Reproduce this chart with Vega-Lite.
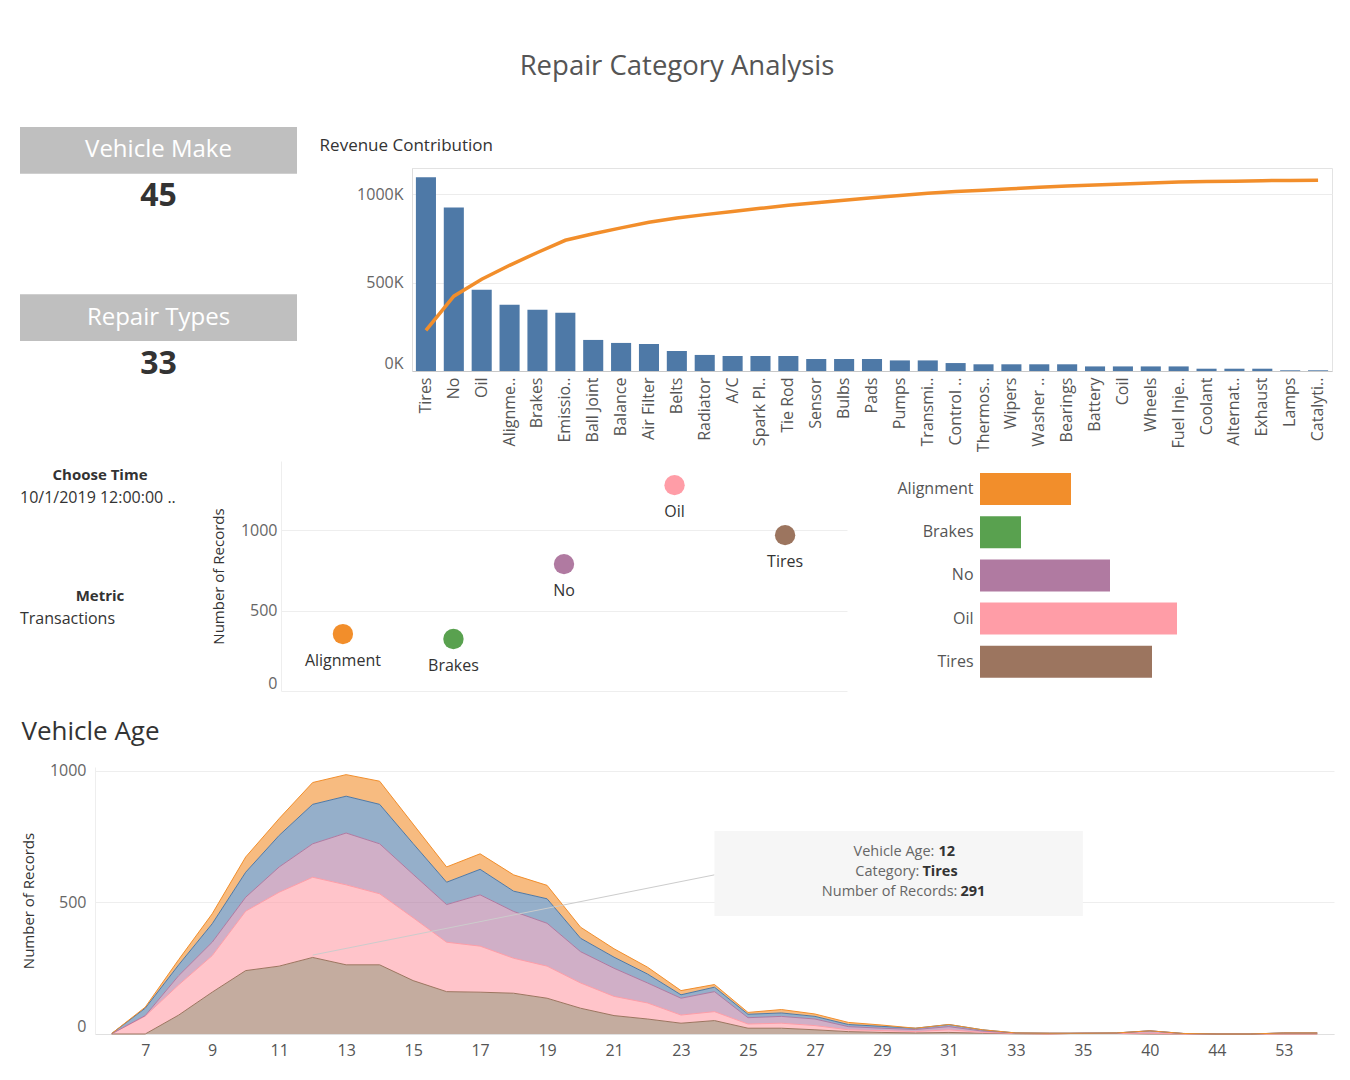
{
  "$schema": "https://vega.github.io/schema/vega-lite/v6.json",
  "background": "white",
  "padding": {"left": 20, "top": 52, "right": 5, "bottom": 5},
  "config": {
    "font": "Open Sans",
    "view": {"stroke": null},
    "axis": {"labelFont": "Open Sans", "titleFont": "Open Sans"},
    "legend": {"disable": true}
  },
  "title": {"text": "Repair Category Analysis", "fontSize": 27.5, "fontWeight": "normal", "color": "#555555", "anchor": "middle", "offset": 47},
  "resolve": {"scale": {"color": "independent"}},
  "spacing": 8,
  "vconcat": [
    {
      "hconcat": [
        {
          "width": 277,
          "height": 214,
          "data": {"values": [
            {"Measure": "Vehicle Make", "Count": 45},
            {"Measure": "Repair Types", "Count": 33}
          ]},
          "encoding": {"y": {"field": "Measure", "type": "nominal", "sort": null, "axis": null, "scale": {"type": "band", "paddingInner": 0.72, "paddingOuter": 0}}},
          "layer": [
            {"mark": {"type": "rect", "color": "#bfbfbf"}},
            {"mark": {"type": "text", "color": "#ffffff", "fontSize": 24}, "encoding": {"text": {"field": "Measure", "type": "nominal"}}},
            {"mark": {"type": "text", "color": "#333333", "fontSize": 32, "fontWeight": "bold", "dy": 46}, "encoding": {"text": {"field": "Count", "type": "quantitative"}}}
          ]
        },
        {
          "vconcat": [
            {"width": 1, "height": 1, "data": {"values": []}, "mark": "point"},
            {
              "width": 920,
              "height": 203,
              "title": {"text": "Revenue Contribution", "fontSize": 17, "fontWeight": "normal", "color": "#333333", "anchor": "start", "frame": "bounds", "dx": -37, "offset": 13},
              "view": {"stroke": "#e3e3e3"},
              "data": {"values": [
                {"Repair": "Tires", "Revenue": 1097000, "CumShare": 0.2128},
                {"Repair": "No", "Revenue": 926000, "CumShare": 0.3924},
                {"Repair": "Oil", "Revenue": 460000, "CumShare": 0.4817},
                {"Repair": "Alignme..", "Revenue": 375000, "CumShare": 0.5544},
                {"Repair": "Brakes", "Revenue": 347000, "CumShare": 0.6217},
                {"Repair": "Emissio..", "Revenue": 330000, "CumShare": 0.6857},
                {"Repair": "Ball Joint", "Revenue": 176000, "CumShare": 0.7199},
                {"Repair": "Balance", "Revenue": 159000, "CumShare": 0.7507},
                {"Repair": "Air Filter", "Revenue": 153000, "CumShare": 0.7804},
                {"Repair": "Belts", "Revenue": 114000, "CumShare": 0.8025},
                {"Repair": "Radiator", "Revenue": 91000, "CumShare": 0.8202},
                {"Repair": "A/C", "Revenue": 85000, "CumShare": 0.8367},
                {"Repair": "Spark Pl..", "Revenue": 85000, "CumShare": 0.8531},
                {"Repair": "Tie Rod", "Revenue": 85000, "CumShare": 0.8696},
                {"Repair": "Sensor", "Revenue": 68000, "CumShare": 0.8828},
                {"Repair": "Bulbs", "Revenue": 68000, "CumShare": 0.8960},
                {"Repair": "Pads", "Revenue": 68000, "CumShare": 0.9092},
                {"Repair": "Pumps", "Revenue": 60000, "CumShare": 0.9208},
                {"Repair": "Transmi..", "Revenue": 60000, "CumShare": 0.9325},
                {"Repair": "Control ..", "Revenue": 45000, "CumShare": 0.9412},
                {"Repair": "Thermos..", "Revenue": 38000, "CumShare": 0.9486},
                {"Repair": "Wipers", "Revenue": 38000, "CumShare": 0.9560},
                {"Repair": "Washer ..", "Revenue": 38000, "CumShare": 0.9633},
                {"Repair": "Bearings", "Revenue": 38000, "CumShare": 0.9707},
                {"Repair": "Battery", "Revenue": 26000, "CumShare": 0.9758},
                {"Repair": "Coil", "Revenue": 26000, "CumShare": 0.9808},
                {"Repair": "Wheels", "Revenue": 26000, "CumShare": 0.9858},
                {"Repair": "Fuel Inje..", "Revenue": 26000, "CumShare": 0.9909},
                {"Repair": "Coolant", "Revenue": 13000, "CumShare": 0.9934},
                {"Repair": "Alternat..", "Revenue": 13000, "CumShare": 0.9959},
                {"Repair": "Exhaust", "Revenue": 13000, "CumShare": 0.9984},
                {"Repair": "Lamps", "Revenue": 4000, "CumShare": 0.9992},
                {"Repair": "Catalyti..", "Revenue": 4000, "CumShare": 1.0}
              ]},
              "encoding": {"x": {"field": "Repair", "type": "nominal", "sort": null, "scale": {"paddingInner": 0.28, "paddingOuter": 0.14}, "axis": {"title": null, "labelAngle": 270, "labelFontSize": 16, "labelColor": "#555555", "labelPadding": 6, "ticks": false, "domainColor": "#c8c8c8", "labelLimit": 120}}},
              "layer": [
                {"mark": {"type": "bar", "color": "#4e79a7"}, "encoding": {"y": {"field": "Revenue", "type": "quantitative", "scale": {"domain": [0, 1150000], "nice": false}, "axis": {"title": null, "values": [0, 500000, 1000000], "labelExpr": "format(datum.value / 1000, 'd') + 'K'", "labelFontSize": 16, "labelColor": "#666666", "labelFlush": true, "labelPadding": 9, "ticks": false, "domainColor": "#dddddd", "gridColor": "#ececec"}}}},
                {"mark": {"type": "line", "color": "#f28e2b", "strokeWidth": 3.5}, "encoding": {"y": {"field": "CumShare", "type": "quantitative", "scale": {"domain": [0, 1.0648], "nice": false}, "axis": null}}}
              ],
              "resolve": {"scale": {"y": "independent"}}
            }
          ],
          "spacing": 8
        }
      ],
      "spacing": 22
    },
    {
      "hconcat": [
        {
          "hconcat": [
            {
              "width": 160,
              "height": 249,
              "data": {"values": [
                {"Control": "Choose Time", "Setting": "10/1/2019 12:00:00 .."},
                {"Control": "Metric", "Setting": "Transactions"}
              ]},
              "encoding": {"y": {"field": "Control", "type": "nominal", "sort": null, "axis": null, "scale": {"type": "point", "padding": 0.529, "align": 0.1094}}},
              "layer": [
                {"mark": {"type": "text", "fontSize": 15, "fontWeight": "bold", "color": "#333333"}, "encoding": {"text": {"field": "Control", "type": "nominal"}}},
                {"mark": {"type": "text", "fontSize": 16, "color": "#333333", "align": "left", "dx": -80, "dy": 23}, "encoding": {"text": {"field": "Setting", "type": "nominal"}}}
              ]
            },
            {
              "width": 566,
              "height": 230,
              "data": {"values": [
                {"Category": "Alignment", "Records": 354},
                {"Category": "Brakes", "Records": 323},
                {"Category": "No", "Records": 789},
                {"Category": "Oil", "Records": 1280},
                {"Category": "Tires", "Records": 969}
              ]},
              "encoding": {
                "x": {"field": "Category", "type": "nominal", "axis": null, "scale": {"type": "point", "padding": 0.56}},
                "y": {"field": "Records", "type": "quantitative", "scale": {"domain": [0, 1430], "nice": false}, "axis": {"title": "Number of Records", "titleFontSize": 15, "titleFontWeight": "normal", "titleColor": "#333333", "titlePadding": 14, "values": [0, 500, 1000], "format": "d", "labelFontSize": 16, "labelColor": "#666666", "labelFlush": true, "labelPadding": 4, "ticks": false, "domainColor": "#eeeeee", "gridColor": "#eeeeee"}},
                "color": {"field": "Category", "type": "nominal", "legend": null, "scale": {"domain": ["Alignment", "Brakes", "No", "Oil", "Tires"], "range": ["#f28e2b", "#59a14f", "#b07aa1", "#ff9da7", "#9c755f"]}}
              },
              "layer": [
                {"mark": {"type": "circle", "size": 415, "opacity": 1}},
                {"mark": {"type": "text", "fontSize": 16, "dy": 27}, "encoding": {"text": {"field": "Category", "type": "nominal"}, "color": {"value": "#333333"}}}
              ]
            }
          ],
          "spacing": 31
        },
        {
          "width": 250,
          "height": 249,
          "data": {"values": [
            {"Category": "Alignment", "Value": 91},
            {"Category": "Brakes", "Value": 41},
            {"Category": "No", "Value": 130},
            {"Category": "Oil", "Value": 197},
            {"Category": "Tires", "Value": 172}
          ]},
          "mark": {"type": "bar"},
          "encoding": {
            "y": {"field": "Category", "type": "nominal", "scale": {"type": "band", "paddingInner": 0.259, "paddingOuter": 0.5113, "align": 0.2715}, "axis": {"title": null, "labelFontSize": 16, "labelColor": "#555555", "labelPadding": 7, "ticks": false, "domain": false}},
            "x": {"field": "Value", "type": "quantitative", "scale": {"domain": [0, 250], "nice": false}, "axis": null},
            "color": {"field": "Category", "type": "nominal", "legend": null, "scale": {"domain": ["Alignment", "Brakes", "No", "Oil", "Tires"], "range": ["#f28e2b", "#59a14f", "#b07aa1", "#ff9da7", "#9c755f"]}}
          }
        }
      ],
      "spacing": 49
    },
    {
      "hconcat": [
        {"width": 1, "height": 1, "data": {"values": []}, "mark": "point"},
        {
          "width": 1239,
          "height": 267,
          "title": {"text": "Vehicle Age", "fontSize": 26, "fontWeight": "normal", "color": "#333333", "anchor": "start", "frame": "bounds", "offset": 18},
          "layer": [
            {
              "data": {"values": [
                {"Age": 6, "Category": "Tires", "Records": 0}, {"Age": 6, "Category": "Oil", "Records": 1}, {"Age": 6, "Category": "No", "Records": 0}, {"Age": 6, "Category": "Brakes", "Records": 1}, {"Age": 6, "Category": "Alignment", "Records": 0},
                {"Age": 7, "Category": "Tires", "Records": 0}, {"Age": 7, "Category": "Oil", "Records": 68}, {"Age": 7, "Category": "No", "Records": 2}, {"Age": 7, "Category": "Brakes", "Records": 28}, {"Age": 7, "Category": "Alignment", "Records": 4},
                {"Age": 8, "Category": "Tires", "Records": 72}, {"Age": 8, "Category": "Oil", "Records": 115}, {"Age": 8, "Category": "No", "Records": 35}, {"Age": 8, "Category": "Brakes", "Records": 41}, {"Age": 8, "Category": "Alignment", "Records": 20},
                {"Age": 9, "Category": "Tires", "Records": 159}, {"Age": 9, "Category": "Oil", "Records": 139}, {"Age": 9, "Category": "No", "Records": 51}, {"Age": 9, "Category": "Brakes", "Records": 70}, {"Age": 9, "Category": "Alignment", "Records": 38},
                {"Age": 10, "Category": "Tires", "Records": 241}, {"Age": 10, "Category": "Oil", "Records": 226}, {"Age": 10, "Category": "No", "Records": 53}, {"Age": 10, "Category": "Brakes", "Records": 95}, {"Age": 10, "Category": "Alignment", "Records": 58},
                {"Age": 11, "Category": "Tires", "Records": 258}, {"Age": 11, "Category": "Oil", "Records": 281}, {"Age": 11, "Category": "No", "Records": 96}, {"Age": 11, "Category": "Brakes", "Records": 120}, {"Age": 11, "Category": "Alignment", "Records": 64},
                {"Age": 12, "Category": "Tires", "Records": 291}, {"Age": 12, "Category": "Oil", "Records": 305}, {"Age": 12, "Category": "No", "Records": 127}, {"Age": 12, "Category": "Brakes", "Records": 150}, {"Age": 12, "Category": "Alignment", "Records": 83},
                {"Age": 13, "Category": "Tires", "Records": 263}, {"Age": 13, "Category": "Oil", "Records": 304}, {"Age": 13, "Category": "No", "Records": 197}, {"Age": 13, "Category": "Brakes", "Records": 140}, {"Age": 13, "Category": "Alignment", "Records": 82},
                {"Age": 14, "Category": "Tires", "Records": 263}, {"Age": 14, "Category": "Oil", "Records": 270}, {"Age": 14, "Category": "No", "Records": 190}, {"Age": 14, "Category": "Brakes", "Records": 150}, {"Age": 14, "Category": "Alignment", "Records": 88},
                {"Age": 15, "Category": "Tires", "Records": 203}, {"Age": 15, "Category": "Oil", "Records": 239}, {"Age": 15, "Category": "No", "Records": 165}, {"Age": 15, "Category": "Brakes", "Records": 117}, {"Age": 15, "Category": "Alignment", "Records": 74},
                {"Age": 16, "Category": "Tires", "Records": 161}, {"Age": 16, "Category": "Oil", "Records": 188}, {"Age": 16, "Category": "No", "Records": 143}, {"Age": 16, "Category": "Brakes", "Records": 85}, {"Age": 16, "Category": "Alignment", "Records": 58},
                {"Age": 17, "Category": "Tires", "Records": 159}, {"Age": 17, "Category": "Oil", "Records": 175}, {"Age": 17, "Category": "No", "Records": 195}, {"Age": 17, "Category": "Brakes", "Records": 97}, {"Age": 17, "Category": "Alignment", "Records": 59},
                {"Age": 18, "Category": "Tires", "Records": 155}, {"Age": 18, "Category": "Oil", "Records": 133}, {"Age": 18, "Category": "No", "Records": 178}, {"Age": 18, "Category": "Brakes", "Records": 77}, {"Age": 18, "Category": "Alignment", "Records": 62},
                {"Age": 19, "Category": "Tires", "Records": 136}, {"Age": 19, "Category": "Oil", "Records": 122}, {"Age": 19, "Category": "No", "Records": 163}, {"Age": 19, "Category": "Brakes", "Records": 93}, {"Age": 19, "Category": "Alignment", "Records": 51},
                {"Age": 20, "Category": "Tires", "Records": 98}, {"Age": 20, "Category": "Oil", "Records": 96}, {"Age": 20, "Category": "No", "Records": 119}, {"Age": 20, "Category": "Brakes", "Records": 51}, {"Age": 20, "Category": "Alignment", "Records": 42},
                {"Age": 21, "Category": "Tires", "Records": 70}, {"Age": 21, "Category": "Oil", "Records": 73}, {"Age": 21, "Category": "No", "Records": 107}, {"Age": 21, "Category": "Brakes", "Records": 42}, {"Age": 21, "Category": "Alignment", "Records": 32},
                {"Age": 22, "Category": "Tires", "Records": 57}, {"Age": 22, "Category": "Oil", "Records": 61}, {"Age": 22, "Category": "No", "Records": 76}, {"Age": 22, "Category": "Brakes", "Records": 34}, {"Age": 22, "Category": "Alignment", "Records": 26},
                {"Age": 23, "Category": "Tires", "Records": 41}, {"Age": 23, "Category": "Oil", "Records": 31}, {"Age": 23, "Category": "No", "Records": 64}, {"Age": 23, "Category": "Brakes", "Records": 13}, {"Age": 23, "Category": "Alignment", "Records": 16},
                {"Age": 24, "Category": "Tires", "Records": 51}, {"Age": 24, "Category": "Oil", "Records": 34}, {"Age": 24, "Category": "No", "Records": 76}, {"Age": 24, "Category": "Brakes", "Records": 17}, {"Age": 24, "Category": "Alignment", "Records": 10},
                {"Age": 25, "Category": "Tires", "Records": 22}, {"Age": 25, "Category": "Oil", "Records": 16}, {"Age": 25, "Category": "No", "Records": 24}, {"Age": 25, "Category": "Brakes", "Records": 13}, {"Age": 25, "Category": "Alignment", "Records": 7},
                {"Age": 26, "Category": "Tires", "Records": 22}, {"Age": 26, "Category": "Oil", "Records": 19}, {"Age": 26, "Category": "No", "Records": 26}, {"Age": 26, "Category": "Brakes", "Records": 13}, {"Age": 26, "Category": "Alignment", "Records": 13},
                {"Age": 27, "Category": "Tires", "Records": 16}, {"Age": 27, "Category": "Oil", "Records": 16}, {"Age": 27, "Category": "No", "Records": 25}, {"Age": 27, "Category": "Brakes", "Records": 10}, {"Age": 27, "Category": "Alignment", "Records": 9},
                {"Age": 28, "Category": "Tires", "Records": 9}, {"Age": 28, "Category": "Oil", "Records": 7}, {"Age": 28, "Category": "No", "Records": 12}, {"Age": 28, "Category": "Brakes", "Records": 8}, {"Age": 28, "Category": "Alignment", "Records": 8},
                {"Age": 29, "Category": "Tires", "Records": 6}, {"Age": 29, "Category": "Oil", "Records": 7}, {"Age": 29, "Category": "No", "Records": 9}, {"Age": 29, "Category": "Brakes", "Records": 7}, {"Age": 29, "Category": "Alignment", "Records": 5},
                {"Age": 30, "Category": "Tires", "Records": 4}, {"Age": 30, "Category": "Oil", "Records": 5}, {"Age": 30, "Category": "No", "Records": 8}, {"Age": 30, "Category": "Brakes", "Records": 5}, {"Age": 30, "Category": "Alignment", "Records": 0},
                {"Age": 31, "Category": "Tires", "Records": 6}, {"Age": 31, "Category": "Oil", "Records": 10}, {"Age": 31, "Category": "No", "Records": 12}, {"Age": 31, "Category": "Brakes", "Records": 8}, {"Age": 31, "Category": "Alignment", "Records": 0},
                {"Age": 32, "Category": "Tires", "Records": 3}, {"Age": 32, "Category": "Oil", "Records": 3}, {"Age": 32, "Category": "No", "Records": 5}, {"Age": 32, "Category": "Brakes", "Records": 5}, {"Age": 32, "Category": "Alignment", "Records": 0},
                {"Age": 33, "Category": "Tires", "Records": 1}, {"Age": 33, "Category": "Oil", "Records": 1}, {"Age": 33, "Category": "No", "Records": 2}, {"Age": 33, "Category": "Brakes", "Records": 0}, {"Age": 33, "Category": "Alignment", "Records": 0},
                {"Age": 34, "Category": "Tires", "Records": 0}, {"Age": 34, "Category": "Oil", "Records": 0}, {"Age": 34, "Category": "No", "Records": 3}, {"Age": 34, "Category": "Brakes", "Records": 0}, {"Age": 34, "Category": "Alignment", "Records": 0},
                {"Age": 35, "Category": "Tires", "Records": 3}, {"Age": 35, "Category": "Oil", "Records": 0}, {"Age": 35, "Category": "No", "Records": 0}, {"Age": 35, "Category": "Brakes", "Records": 0}, {"Age": 35, "Category": "Alignment", "Records": 0},
                {"Age": 37, "Category": "Tires", "Records": 2}, {"Age": 37, "Category": "Oil", "Records": 0}, {"Age": 37, "Category": "No", "Records": 2}, {"Age": 37, "Category": "Brakes", "Records": 0}, {"Age": 37, "Category": "Alignment", "Records": 0},
                {"Age": 40, "Category": "Tires", "Records": 0}, {"Age": 40, "Category": "Oil", "Records": 3}, {"Age": 40, "Category": "No", "Records": 9}, {"Age": 40, "Category": "Brakes", "Records": 0}, {"Age": 40, "Category": "Alignment", "Records": 0},
                {"Age": 42, "Category": "Tires", "Records": 0}, {"Age": 42, "Category": "Oil", "Records": 0}, {"Age": 42, "Category": "No", "Records": 2}, {"Age": 42, "Category": "Brakes", "Records": 0}, {"Age": 42, "Category": "Alignment", "Records": 0},
                {"Age": 44, "Category": "Tires", "Records": 0}, {"Age": 44, "Category": "Oil", "Records": 0}, {"Age": 44, "Category": "No", "Records": 0}, {"Age": 44, "Category": "Brakes", "Records": 0}, {"Age": 44, "Category": "Alignment", "Records": 0},
                {"Age": 47, "Category": "Tires", "Records": 0}, {"Age": 47, "Category": "Oil", "Records": 0}, {"Age": 47, "Category": "No", "Records": 0}, {"Age": 47, "Category": "Brakes", "Records": 0}, {"Age": 47, "Category": "Alignment", "Records": 0},
                {"Age": 53, "Category": "Tires", "Records": 0}, {"Age": 53, "Category": "Oil", "Records": 0}, {"Age": 53, "Category": "No", "Records": 4}, {"Age": 53, "Category": "Brakes", "Records": 0}, {"Age": 53, "Category": "Alignment", "Records": 0},
                {"Age": 56, "Category": "Tires", "Records": 0}, {"Age": 56, "Category": "Oil", "Records": 0}, {"Age": 56, "Category": "No", "Records": 4}, {"Age": 56, "Category": "Brakes", "Records": 0}, {"Age": 56, "Category": "Alignment", "Records": 0}
              ]},
              "mark": {"type": "area", "fillOpacity": 0.6, "line": {"strokeWidth": 1}},
              "encoding": {
                "x": {"field": "Age", "type": "ordinal", "scale": {"type": "point", "padding": 0.5}, "axis": {"title": null, "values": [7, 9, 11, 13, 15, 17, 19, 21, 23, 25, 27, 29, 31, 33, 35, 40, 44, 53], "labelAngle": 0, "labelFontSize": 16, "labelColor": "#555555", "labelPadding": 8, "ticks": false, "domainColor": "#e0e0e0"}},
                "y": {"field": "Records", "type": "quantitative", "stack": "zero", "scale": {"domain": [0, 1015], "nice": false}, "axis": {"title": "Number of Records", "titleFontSize": 15, "titleFontWeight": "normal", "titleColor": "#333333", "titlePadding": 13, "values": [0, 500, 1000], "format": "d", "labelFontSize": 16, "labelColor": "#666666", "labelFlush": true, "labelPadding": 9, "ticks": false, "domainColor": "#eeeeee", "gridColor": "#eeeeee"}},
                "color": {"field": "Category", "type": "nominal", "legend": null, "scale": {"domain": ["Alignment", "Brakes", "No", "Oil", "Tires"], "range": ["#f28e2b", "#4e79a7", "#b07aa1", "#ff9da7", "#9c755f"]}},
                "order": {"field": "Category", "sort": "descending"}
              }
            },
            {
              "data": {"values": [{"Age": 12, "Category": "Tires", "Records": 291}]},
              "layer": [
                {"mark": {"type": "rule", "color": "#cccccc", "strokeWidth": 1}, "encoding": {"x": {"datum": 12, "type": "ordinal"}, "y": {"datum": 300, "type": "quantitative"}, "x2": {"datum": 24}, "y2": {"datum": 605}}},
                {"mark": {"type": "rect", "color": "#f6f6f6"}, "encoding": {"x": {"datum": 24, "type": "ordinal"}, "x2": {"datum": 35}, "y": {"datum": 449, "type": "quantitative"}, "y2": {"datum": 772}}},
                {"mark": {"type": "text", "align": "right", "fontSize": 14.5, "color": "#666666", "dx": 19}, "encoding": {"x": {"datum": 30, "type": "ordinal"}, "y": {"datum": 692, "type": "quantitative"}, "text": {"value": "Vehicle Age:"}}},
                {"mark": {"type": "text", "align": "left", "fontSize": 14.5, "fontWeight": "bold", "color": "#333333", "dx": 23}, "encoding": {"x": {"datum": 30, "type": "ordinal"}, "y": {"datum": 692, "type": "quantitative"}, "text": {"field": "Age", "type": "ordinal"}}},
                {"mark": {"type": "text", "align": "right", "fontSize": 14.5, "color": "#666666", "dx": 4}, "encoding": {"x": {"datum": 30, "type": "ordinal"}, "y": {"datum": 616, "type": "quantitative"}, "text": {"value": "Category:"}}},
                {"mark": {"type": "text", "align": "left", "fontSize": 14.5, "fontWeight": "bold", "color": "#333333", "dx": 7}, "encoding": {"x": {"datum": 30, "type": "ordinal"}, "y": {"datum": 616, "type": "quantitative"}, "text": {"field": "Category", "type": "nominal"}}},
                {"mark": {"type": "text", "align": "right", "fontSize": 14.5, "color": "#666666", "dx": 42}, "encoding": {"x": {"datum": 30, "type": "ordinal"}, "y": {"datum": 540, "type": "quantitative"}, "text": {"value": "Number of Records:"}}},
                {"mark": {"type": "text", "align": "left", "fontSize": 14.5, "fontWeight": "bold", "color": "#333333", "dx": 45}, "encoding": {"x": {"datum": 30, "type": "ordinal"}, "y": {"datum": 540, "type": "quantitative"}, "text": {"field": "Records", "type": "quantitative"}}}
              ]
            }
          ]
        }
      ],
      "spacing": 0
    }
  ]
}
